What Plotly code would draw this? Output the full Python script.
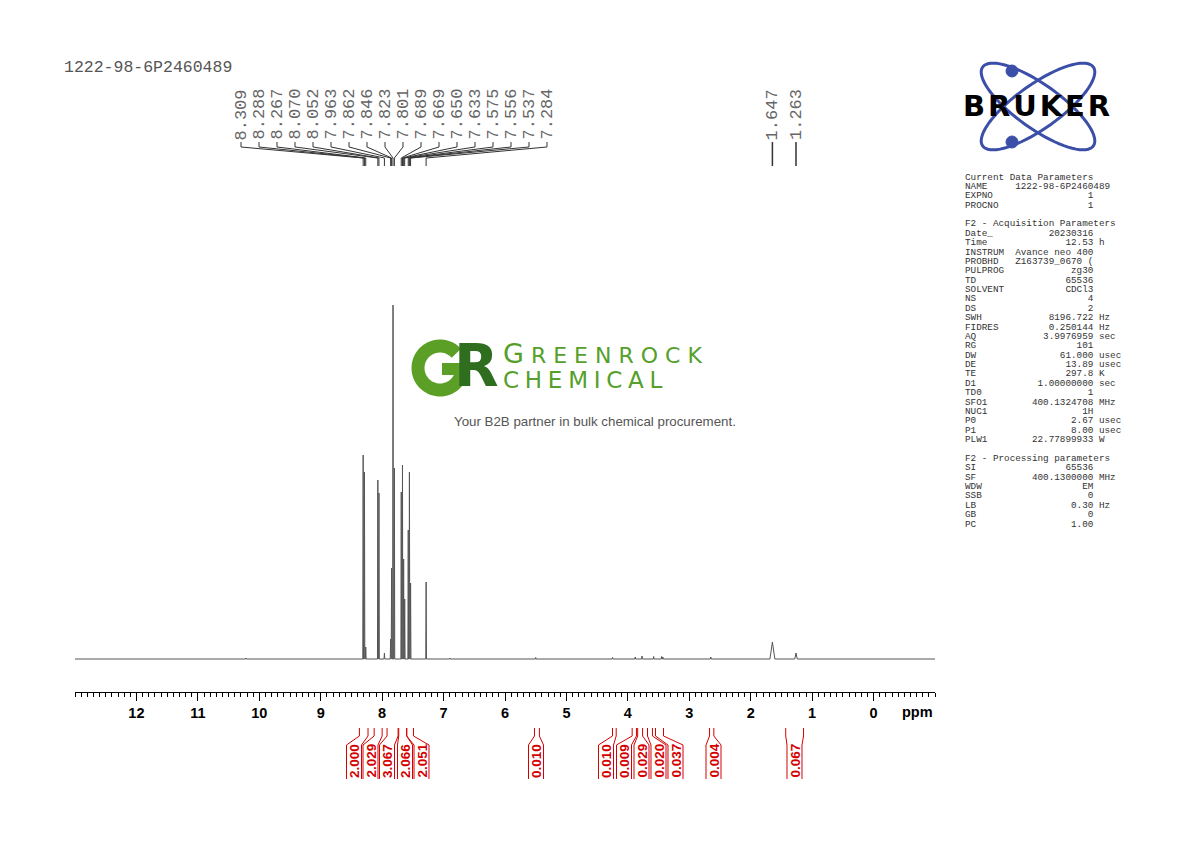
import math
import plotly.graph_objects as go

# ------------------------------------------------------------------ data
TITLE = "1222-98-6P2460489"

# labelled aromatic peaks (ppm) and their heights (relative intensity)
label_ppm = [8.309, 8.288, 8.267, 8.070, 8.052, 7.963, 7.862, 7.846, 7.823, 7.801,
             7.689, 7.669, 7.650, 7.633, 7.575, 7.556, 7.537, 7.284]
label_int = [204, 187, 12, 179, 166, 6, 20, 91, 354, 191,
             167, 194, 100, 60, 129, 187, 76, 77]

# labelled aliphatic peaks and their half widths at the base (ppm)
aliph_ppm = [1.647, 1.263]
aliph_int = [17, 6]
aliph_hw = [0.04, 0.02]

# small unlabelled peaks
minor_ppm = [10.22, 6.90, 5.50, 4.25, 3.88, 3.77, 3.58, 3.45, 3.43, 2.65]
minor_int = [1.0, 1.0, 1.5, 1.5, 2.0, 3.0, 2.5, 2.5, 2.0, 2.0]

# integrals
int_values = ["2.000", "2.029", "3.067", "2.066", "2.051", "0.010", "0.010",
              "0.009", "0.029", "0.020", "0.037", "0.004", "0.067"]
int_start = [8.37, 8.13, 7.92, 7.73, 7.60, 5.52, 4.25, 3.93, 3.84, 3.68, 3.55, 2.67, 1.43]
int_end = [8.23, 8.00, 7.74, 7.60, 7.49, 5.44, 4.19, 3.86, 3.76, 3.60, 3.42, 2.60, 1.14]

# axis ticks
tick_vals = [12, 11, 10, 9, 8, 7, 6, 5, 4, 3, 2, 1, 0]
tick_text = [str(v) for v in tick_vals]

# acquisition / processing parameters
param_rows = [
    ("Current Data Parameters", None, None),
    ("NAME", "1222-98-6P2460489", "name"),
    ("EXPNO", "1", ""),
    ("PROCNO", "1", ""),
    ("", None, "blank"),
    ("F2 - Acquisition Parameters", None, None),
    ("Date_", "20230316", ""),
    ("Time", "12.53", "h"),
    ("INSTRUM", "Avance neo 400", ""),
    ("PROBHD", "Z163739_0670 (", ""),
    ("PULPROG", "zg30", ""),
    ("TD", "65536", ""),
    ("SOLVENT", "CDCl3", ""),
    ("NS", "4", ""),
    ("DS", "2", ""),
    ("SWH", "8196.722", "Hz"),
    ("FIDRES", "0.250144", "Hz"),
    ("AQ", "3.9976959", "sec"),
    ("RG", "101", ""),
    ("DW", "61.000", "usec"),
    ("DE", "13.89", "usec"),
    ("TE", "297.8", "K"),
    ("D1", "1.00000000", "sec"),
    ("TD0", "1", ""),
    ("SFO1", "400.1324708", "MHz"),
    ("NUC1", "1H", ""),
    ("P0", "2.67", "usec"),
    ("P1", "8.00", "usec"),
    ("PLW1", "22.77899933", "W"),
    ("", None, "blank"),
    ("F2 - Processing parameters", None, None),
    ("SI", "65536", ""),
    ("SF", "400.1300000", "MHz"),
    ("WDW", "EM", ""),
    ("SSB", "0", ""),
    ("LB", "0.30", "Hz"),
    ("GB", "0", ""),
    ("PC", "1.00", ""),
]

# ------------------------------------------------------------------ layout constants
OFF = 8                            # default page margin of the html body
W, H = 1190 - 2 * OFF, 842 - 2 * OFF
PLOT_L, PLOT_R = 75, 935           # x-axis extent (page px)
PLOT_T, PLOT_B = 100, 692          # plot area (page px)
X_HI, X_LO = 13.0, -1.0            # ppm range
BASE_PX = 659                      # baseline pixel row
Y_LO = -(PLOT_B - BASE_PX)
Y_HI = BASE_PX - PLOT_T


def X(px):
    return (px - OFF) / W


def Y(py):
    return 1 - (py - OFF) / H


def P(px, py):
    return f"{X(px):.5f},{Y(py):.5f}"


def ppm_px(p):
    return PLOT_L + (X_HI - p) / (X_HI - X_LO) * (PLOT_R - PLOT_L)


NB = "\u00a0"

# ------------------------------------------------------------------ spectrum trace
HW = 0.006
peaks = [(p, h, HW) for p, h in zip(label_ppm, label_int)]
peaks += [(p, h, w) for p, h, w in zip(aliph_ppm, aliph_int, aliph_hw)]
peaks += [(p, h, HW) for p, h in zip(minor_ppm, minor_int)]
peaks.sort(key=lambda t: -t[0])
xs, ys = [X_HI], [0]
for p, h, w in peaks:
    xs += [p + w, p, p - w]
    ys += [0, h, 0]
xs.append(X_LO)
ys.append(0)

fig = go.Figure()
fig.add_trace(go.Scatter(x=xs, y=ys, mode="lines",
                         line=dict(color="#555555", width=1),
                         hoverinfo="skip", showlegend=False))

shapes = []
ann = []

# ------------------------------------------------------------------ title
ann.append(dict(x=X(62), y=Y(68), xref="paper", yref="paper", text=TITLE,
                showarrow=False, xanchor="left", yanchor="middle",
                font=dict(family="Liberation Mono", size=16.5, color="#555")))

# ------------------------------------------------------------------ peak labels
LBL_X0, LBL_DX = 241.0, 18.0
LBL_FONT = dict(family="Liberation Mono", size=17, color="#666")
for i, p in enumerate(label_ppm):
    lx = LBL_X0 + i * LBL_DX
    px = ppm_px(p)
    ann.append(dict(x=X(lx), y=Y(114.5), xref="paper", yref="paper",
                    text=f"{p:.3f}", textangle=-90, showarrow=False,
                    xanchor="center", yanchor="middle", font=LBL_FONT))
    path = f"M {P(lx, 142)} L {P(lx, 147)} L {P(px, 158)} L {P(px, 166)}"
    shapes.append(dict(type="path", path=path, xref="paper", yref="paper",
                       line=dict(color="#333", width=1)))
for p in aliph_ppm:
    px = ppm_px(p)
    ann.append(dict(x=X(px + 0.5), y=Y(114.5), xref="paper", yref="paper",
                    text=f"{p:.3f}", textangle=-90, showarrow=False,
                    xanchor="center", yanchor="middle", font=LBL_FONT))
    shapes.append(dict(type="line", x0=X(px), x1=X(px), y0=Y(142), y1=Y(166),
                       xref="paper", yref="paper", line=dict(color="#333", width=1.5)))

# ------------------------------------------------------------------ integrals
INT_LBL_PX = [354, 370.5, 387, 405, 421.5, 536, 606, 624, 641.5, 658.5, 675.5, 713.5, 794.5]
RED = "#d40000"
for v, a, b, c in zip(int_values, int_start, int_end, INT_LBL_PX):
    ax, bx = ppm_px(a), ppm_px(b)
    lx, rx = c - 7.5, c + 7.5
    path = (f"M {P(ax, 728)} L {P(ax, 736)} L {P(lx, 745)} L {P(lx, 779)} "
            f"M {P(bx, 728)} L {P(bx, 736)} L {P(rx, 745)} L {P(rx, 779)}")
    shapes.append(dict(type="path", path=path, xref="paper", yref="paper",
                       line=dict(color=RED, width=1)))
    ann.append(dict(x=X(c), y=Y(761), xref="paper", yref="paper", text=v,
                    textangle=-90, showarrow=False, xanchor="center", yanchor="middle",
                    font=dict(family="Liberation Sans", size=13.5, color=RED, weight="bold")))

# ------------------------------------------------------------------ ppm unit label
ann.append(dict(x=X(917), y=Y(712), xref="paper", yref="paper", text="ppm",
                showarrow=False, xanchor="center", yanchor="middle",
                font=dict(family="Liberation Sans", size=14.5, color="black", weight="bold")))

# ------------------------------------------------------------------ parameters block
P_X, P_Y0, P_DY = 963, 177, 9.38
for k, (lab, val, unit) in enumerate(param_rows):
    if unit == "blank":
        continue
    if val is None:
        s = lab
    elif unit == "name":
        s = lab.ljust(9) + val
    else:
        s = lab.ljust(23 - len(val)) + val + ((" " + unit) if unit else "")
    s = s.replace(" ", NB)
    ann.append(dict(x=X(P_X), y=Y(P_Y0 + k * P_DY), xref="paper", yref="paper",
                    text=s, showarrow=False, xanchor="left", yanchor="middle",
                    font=dict(family="Liberation Mono", size=9.3, color="#333")))

# ------------------------------------------------------------------ Bruker logo
BLUE = "#3b4fa8"
cx, cy, ea, eb = 1038, 106.5, 68, 22
for ang in (35.5, -35.5):
    th = math.radians(ang)
    pts = []
    for k in range(73):
        t = 2 * math.pi * k / 72
        px = cx + ea * math.cos(t) * math.cos(th) - eb * math.sin(t) * math.sin(th)
        py = cy + ea * math.cos(t) * math.sin(th) + eb * math.sin(t) * math.cos(th)
        pts.append(P(px, py))
    shapes.append(dict(type="path", path="M " + " L ".join(pts) + " Z",
                       xref="paper", yref="paper", line=dict(color=BLUE, width=3)))
for (dx, dy) in ((1012, 71), (1012, 142)):
    shapes.append(dict(type="circle", xref="paper", yref="paper",
                       x0=X(dx - 6), x1=X(dx + 6), y0=Y(dy + 6), y1=Y(dy - 6),
                       fillcolor=BLUE, line=dict(color=BLUE, width=1)))
ann.append(dict(x=X(1036), y=Y(106), xref="paper", yref="paper",
                text="B\u200aR\u200aU\u200aK\u200aE\u200aR", showarrow=False,
                xanchor="center", yanchor="middle",
                font=dict(family="DejaVu Sans", size=29, color="black", weight="bold")))

# ------------------------------------------------------------------ watermark
GREEN = "#55a02a"
G_LIGHT = "#5b9f26"
G_DARK = "#2f6e1f"
# "G" ring of the logo, drawn as a thick arc plus its bar
gcx, gcy, gr = 440, 368, 22
arc = []
for k in range(0, 65):
    a = math.radians(42 + k * (318 / 64))
    arc.append(P(gcx + gr * math.cos(a), gcy - gr * math.sin(a)))
shapes.append(dict(type="path", path="M " + " L ".join(arc), xref="paper", yref="paper",
                   line=dict(color=G_LIGHT, width=13)))
shapes.append(dict(type="rect", xref="paper", yref="paper",
                   x0=X(442), x1=X(468.5), y0=Y(375), y1=Y(363),
                   fillcolor=G_LIGHT, line=dict(width=0)))
ann.append(dict(x=X(476), y=Y(366), xref="paper", yref="paper", text="R",
                showarrow=False, xanchor="center", yanchor="middle",
                font=dict(family="DejaVu Sans", size=58, color=G_DARK, weight="bold")))
gr_text = ("<span style='font-size:27px'>G</span><span style='font-size:22px'>" + NB
           + NB.join("REENROCK") + "</span><br><span style='font-size:23px'>"
           + "\u2005".join("CHEMICAL") + "</span>")
ann.append(dict(x=X(501), y=Y(365.5), xref="paper", yref="paper", text=gr_text,
                showarrow=False, xanchor="left", yanchor="middle", align="left",
                font=dict(family="DejaVu Sans", size=19.3, color=GREEN)))
ann.append(dict(x=X(595), y=Y(421), xref="paper", yref="paper",
                text="Your B2B partner in bulk chemical procurement.",
                showarrow=False, xanchor="center", yanchor="middle",
                font=dict(family="Liberation Sans", size=13.3, color="#555")))

# ------------------------------------------------------------------ axes
fig.update_layout(
    width=W, height=H,
    margin=dict(l=0, r=0, t=0, b=0),
    paper_bgcolor="white", plot_bgcolor="white",
    showlegend=False,
    xaxis=dict(domain=[X(PLOT_L), X(PLOT_R)], range=[X_HI, X_LO],
               showline=True, linecolor="black", linewidth=1,
               ticks="outside", ticklen=8, tickwidth=1, tickcolor="black",
               tickvals=tick_vals, ticktext=tick_text,
               tickfont=dict(family="Liberation Sans", size=14.5, color="black", weight="bold"),
               minor=dict(dtick=0.1, tick0=0, ticks="outside", ticklen=4,
                          tickcolor="black", tickwidth=1, showgrid=False),
               showgrid=False, zeroline=False, fixedrange=True),
    yaxis=dict(domain=[Y(PLOT_B), Y(PLOT_T)], range=[Y_LO, Y_HI],
               visible=False, showgrid=False, zeroline=False, fixedrange=True),
    shapes=shapes,
    annotations=ann,
)

fig.write_html("out.html")
